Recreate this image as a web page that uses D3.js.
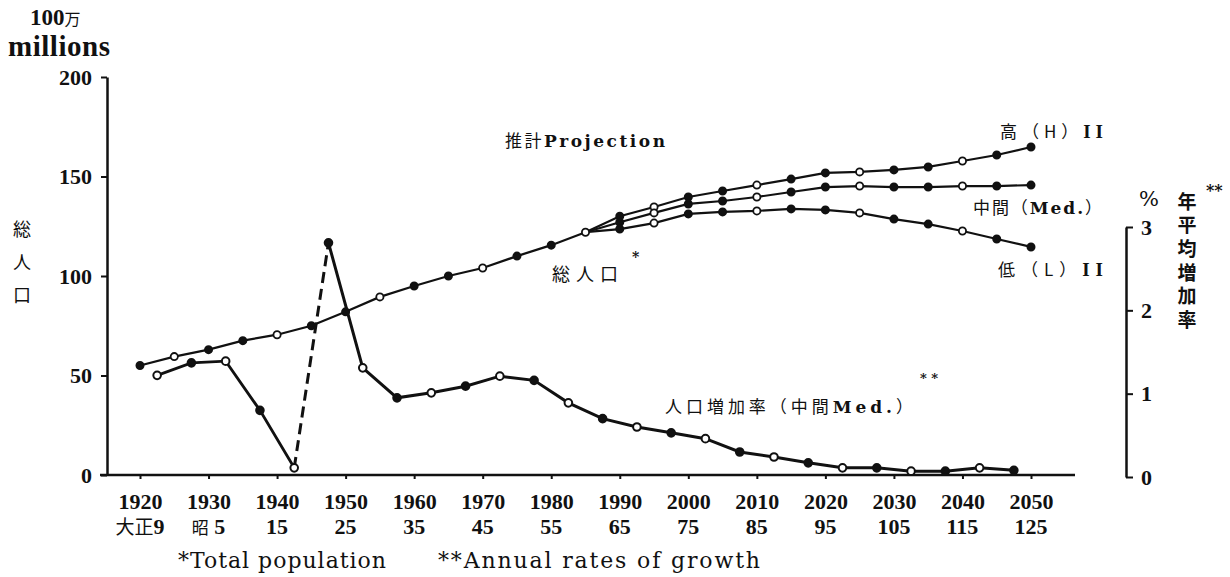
<!DOCTYPE html>
<html><head><meta charset="utf-8">
<script src="https://cdn.jsdelivr.net/npm/d3@7"></script>
<style>
html,body{margin:0;padding:0;background:#fff;}
svg{display:block;}
.num{font-family:"Liberation Serif",serif;font-weight:bold;fill:#111;}
.cjk{font-family:"Noto Sans CJK JP",sans-serif;fill:#111;}
.ser{font-family:"DejaVu Serif",serif;fill:#111;}
</style>
</head><body>
<svg id="chart" width="1230" height="577"></svg>
<script>
// ---- data ----
const popYears = [1920,1925,1930,1935,1940,1945,1950,1955,1960,1965,1970,1975,1980,1985];
const popTotal = [55,59.5,63,67.5,70.5,75,82,89.5,95,100,104,110,115.5,122];
const projYears = [1985,1990,1995,2000,2005,2010,2015,2020,2025,2030,2035,2040,2045,2050];
const popHigh = [122,130,134.7,139.7,142.7,145.7,148.7,151.8,152.3,153.3,154.8,157.8,160.8,164.8];
const popMed  = [122,127,131.7,136.2,137.7,139.7,142.2,144.7,145.2,144.7,144.7,145.2,145.2,145.7];
const popLow  = [122,123.6,126.6,131.2,132.2,132.7,133.7,133.2,131.7,128.6,126.1,122.6,118.6,114.6];
const growthYears = [1922.5,1927.5,1932.5,1937.5,1942.5,1947.5,1952.5,1957.5,1962.5,1967.5,1972.5,1977.5,1982.5,1987.5,1992.5,1997.5,2002.5,2007.5,2012.5,2017.5,2022.5,2027.5,2032.5,2037.5,2042.5,2047.5];
const growthRate = [1.22,1.37,1.39,0.80,0.11,2.81,1.31,0.95,1.01,1.09,1.21,1.16,0.89,0.70,0.60,0.53,0.46,0.30,0.24,0.17,0.11,0.11,0.07,0.07,0.11,0.08];
const xTicks = [1920,1930,1940,1950,1960,1970,1980,1990,2000,2010,2020,2030,2040,2050];
const showaLabels = ["大正9","昭5","15","25","35","45","55","65","75","85","95","105","115","125"];
const leftTicks = [0,50,100,150,200];
const rightTicks = [0,1,2,3];

// ---- scales ----
const svg = d3.select("#chart");
const x = d3.scaleLinear().domain([1920,2050]).range([140,1031]);
const yL = d3.scaleLinear().domain([0,200]).range([475,77]);
const yR = d3.scaleLinear().domain([0,3]).range([477,227]);

function styleTicks(g){
  g.attr("font-family",null).attr("font-size",null);
  g.selectAll(".tick line").attr("stroke","#111").attr("stroke-width",2);
  g.selectAll(".tick text").attr("class","num").style("font-size","22px");
}

// ---- axes ----
svg.append("line").attr("x1", x(1920)-40).attr("x2", x(2050)+44)
  .attr("y1", yL(0)).attr("y2", yL(0)).attr("stroke","#111").attr("stroke-width",2.5);
const gx = svg.append("g").attr("transform",`translate(0,${yL(0)})`)
  .call(d3.axisBottom(x).tickValues(xTicks).tickSize(4).tickSizeOuter(0).tickPadding(8).tickFormat(d3.format("d")));
gx.select(".domain").remove();
styleTicks(gx);
gx.selectAll(".tick text").attr("dy","1.0em");

// second row (Japanese era years)
svg.append("g").selectAll("text").data(xTicks).join("text")
  .attr("x", d=>x(d)).attr("y", 534).attr("text-anchor","middle").attr("class","num").style("font-size","22px")
  .each(function(d,i){
    const lab = showaLabels[i];
    const t = d3.select(this);
    const m = lab.match(/^([^0-9]*)([0-9]+)$/);
    if (m[1]) {
      t.append("tspan").attr("class","cjk").style("font-size", (i===0?19:17)+"px").style("font-weight","normal").text(m[1]);
      t.append("tspan").text((i===0?"":" ")+m[2]);
    } else t.text(lab);
  });

// left axis
const gl = svg.append("g").attr("transform",`translate(107,0)`)
  .call(d3.axisLeft(yL).tickValues(leftTicks).tickSize(6).tickSizeOuter(0).tickPadding(9).tickFormat(d3.format("d")));
gl.select(".domain").attr("stroke","#111").attr("stroke-width",2.5);
styleTicks(gl);

// right axis
const gr = svg.append("g").attr("transform",`translate(1126,0)`)
  .call(d3.axisRight(yR).tickValues(rightTicks).tickSize(7).tickSizeOuter(0).tickPadding(8).tickFormat(d3.format("d")));
gr.select(".domain").attr("stroke","#111").attr("stroke-width",2.5);
styleTicks(gr);

// ---- lines ----
const lineL = d3.line().x(d=>x(d[0])).y(d=>yL(d[1]));
const lineR = d3.line().x(d=>x(d[0])).y(d=>yR(d[1]));
function pairs(years, vals){ return years.map((y,i)=>[y,vals[i]]); }
const seriesPop = [pairs(popYears,popTotal), pairs(projYears,popHigh), pairs(projYears,popMed), pairs(projYears,popLow)];
seriesPop.forEach(s=>{
  svg.append("path").datum(s).attr("d",lineL).attr("fill","none").attr("stroke","#111").attr("stroke-width",2.2);
});
seriesPop.forEach((s,k)=>{
  svg.append("g").selectAll("circle").data(k===0?s:s.slice(1)).join("circle")
    .attr("cx",d=>x(d[0])).attr("cy",d=>yL(d[1])).attr("r",3.6)
    .attr("fill",(d,i)=> (i%3===1)?"#fff":"#111").attr("stroke","#111").attr("stroke-width",1.8);
});

const gData = pairs(growthYears, growthRate);
const iWar = growthYears.indexOf(1942.5);
svg.append("path").datum(gData.slice(0,iWar+1)).attr("d",lineR).attr("fill","none").attr("stroke","#111").attr("stroke-width",2.8);
svg.append("path").datum(gData.slice(iWar,iWar+2)).attr("d",lineR).attr("fill","none").attr("stroke","#111").attr("stroke-width",3).attr("stroke-dasharray","11,6");
svg.append("path").datum(gData.slice(iWar+1)).attr("d",lineR).attr("fill","none").attr("stroke","#111").attr("stroke-width",3);
svg.append("g").selectAll("circle").data(gData).join("circle")
  .attr("cx",d=>x(d[0])).attr("cy",d=>yR(d[1])).attr("r",3.8)
  .attr("fill",(d,i)=>(i%2===0)?"#fff":"#111").attr("stroke","#111").attr("stroke-width",2);

// ---- texts ----
function label(px, py, parts, len){
  const t = svg.append("text").attr("x",px).attr("y",py);
  parts.forEach(p=>{
    t.append("tspan").attr("class",p[1]).style("font-size",p[2]+"px").style("font-weight",p[3]||"normal").text(p[0]);
  });
  if (len) t.attr("textLength",len).attr("lengthAdjust","spacing");
  return t;
}
label(30,25,[["100","num",23,"bold"],["万","cjk",16]]);
label(8,56,[["millions","num",29,"bold"]],102);
// left vertical title
svg.append("text").attr("x",22).attr("y",220).attr("class","cjk")
  .style("writing-mode","vertical-rl").style("font-size","18px").style("letter-spacing","15px").text("総人口");
// right side
label(1139,206,[["%","ser",21]]);
svg.append("text").attr("x",1187).attr("y",192).attr("class","cjk")
  .style("writing-mode","vertical-rl").style("font-size","19px").style("font-weight","bold").style("letter-spacing","4.6px").text("年平均増加率");
label(1206,196,[["**","ser",16,"bold"]]);

label(505,147,[["推計","cjk",17],["Projection","ser",17,"bold"]],160);
label(1000,138,[["高（H）","cjk",17],["II","num",19,"bold"]],103);
label(973,214,[["中間（","cjk",17],["Med.","ser",17,"bold"],["）","cjk",17]],129);
label(998,276,[["低（L）","cjk",17],["II","num",19,"bold"]],105);
label(552,281,[["総人口","cjk",18]],66);
label(632,262,[["*","ser",14,"bold"]]);
label(665,413,[["人口増加率（中間","cjk",17],["Med.","ser",17,"bold"],["）","cjk",17]],248);
label(920,383,[["* *","ser",13,"bold"]]);

label(178,568,[["*Total population","ser",22]],208);
label(438,568,[["**Annual rates of growth","ser",22]],322);
</script>
</body></html>
